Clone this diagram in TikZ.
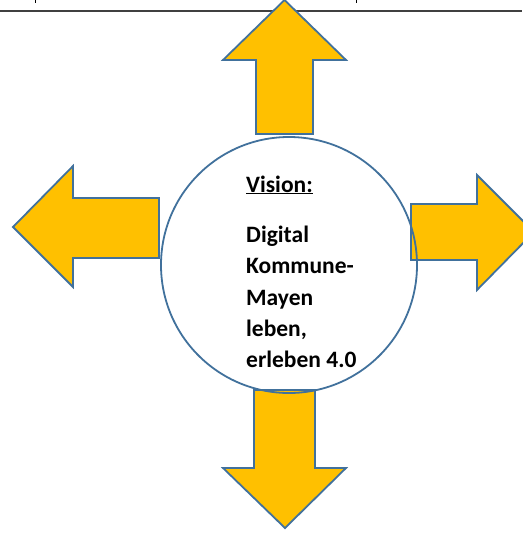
\documentclass[tikz,border=0pt]{standalone}
\usepackage{fontspec}
\setmainfont{Carlito}
\definecolor{arrowfill}{HTML}{FFC000}
\definecolor{arrowline}{HTML}{41719C}
\tikzset{
  block arrow/.style = {draw=arrowline, fill=arrowfill, line width=1.8pt, line join=miter},
  vision circle/.style = {circle, draw=arrowline, line width=1.8pt, minimum size=256pt, inner sep=0pt},
  vision text/.style = {font=\bfseries\fontsize{23.5}{31.3}\selectfont, align=left, inner sep=0pt}
}

\begin{document}
\begin{tikzpicture}[x=1pt, y=-1pt]
\useasboundingbox (0,0) rectangle (522,535);
% header rule
\draw[line width=1.3pt, black!75] (0,11) -- (522,11);
\draw[line width=1pt] (35,0) -- (35,3);
\draw[line width=1pt] (356,0) -- (356,3);
% the four arrows
\draw[block arrow] (256,134) -- (256,60) -- (223,60) -- (284.5,0) -- (346,60) -- (313,60) -- (313,134) -- cycle; % up
\draw[block arrow] (159,198) -- (73,198) -- (73,166) -- (13,227) -- (73,287) -- (73,258) -- (159,258) -- cycle; % left
\draw[block arrow] (411,204) -- (477,204) -- (477,175) -- (534,232) -- (477,290) -- (477,260) -- (411,260) -- cycle; % right
\draw[block arrow] (254,390) -- (315,390) -- (315,468) -- (346,468) -- (285,528) -- (223,468) -- (254,468) -- cycle; % down
% centre
\node[vision circle] (vision) at (289,265) {};
\node[vision text, anchor=base west] (title) at (246,192) {\underline{Vision:}};
\node[vision text, anchor=north west] (body) at (246,226) {Digital\\Kommune-\\Mayen\\leben,\\erleben 4.0};
\end{tikzpicture}
\end{document}
